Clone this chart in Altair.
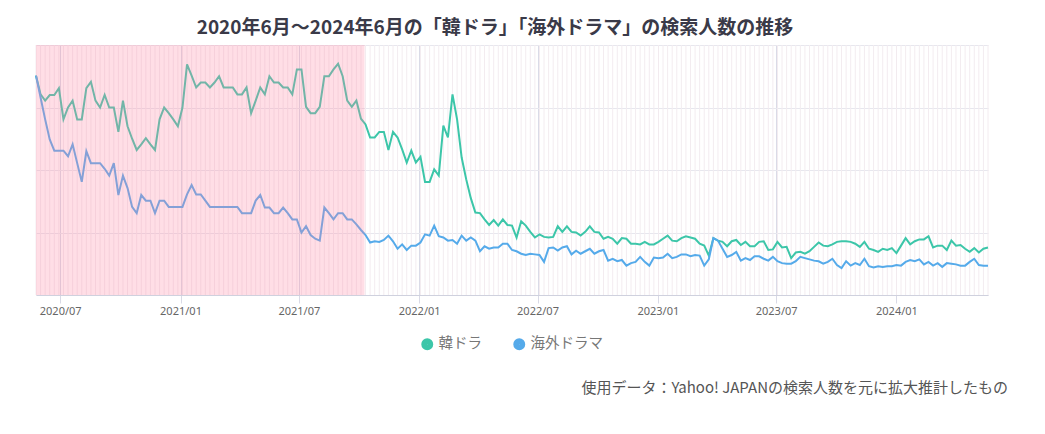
import altair as alt
import pandas as pd

# ---- data (weekly) ----
start_week = "2020-05-25"
n_weeks = 209

korean = [
    351, 321, 311, 320, 320, 331, 281, 300, 311, 281,
    281, 331, 341, 311, 300, 320, 300, 300, 261, 311,
    270, 250, 232, 241, 251, 241, 232, 281, 300, 291,
    281, 270, 300, 369, 351, 332, 340, 340, 332, 340,
    350, 332, 332, 332, 321, 321, 332, 291, 311, 332,
    321, 350, 340, 340, 332, 332, 321, 361, 361, 301,
    291, 291, 301, 350, 350, 361, 370, 350, 311, 301,
    311, 282, 273, 252, 252, 261, 261, 232, 261, 252,
    233, 212, 231, 212, 221, 181, 181, 201, 191, 271,
    252, 321, 281, 220, 185, 155, 132, 131, 121, 112,
    120, 111, 121, 112, 111, 92, 118, 111, 101, 92,
    97, 93, 92, 93, 110, 101, 110, 101, 100, 95,
    101, 110, 101, 100, 90, 93, 90, 82, 91, 90,
    82, 82, 81, 85, 81, 81, 85, 90, 95, 87,
    86, 91, 94, 92, 90, 82, 79, 63, 91, 87,
    85, 78, 86, 88, 80, 85, 78, 78, 85, 86,
    72, 73, 85, 76, 77, 59, 68, 69, 66, 70,
    77, 84, 79, 78, 81, 85, 86, 86, 85, 82,
    77, 85, 74, 72, 69, 74, 72, 75, 67, 79,
    91, 81, 86, 89, 89, 94, 76, 79, 79, 72,
    87, 79, 80, 74, 69, 75, 68, 74, 76,
]

overseas = [
    351, 316, 281, 249, 231, 231, 231, 222, 241, 211,
    181, 230, 211, 211, 211, 202, 191, 211, 160, 191,
    171, 141, 131, 160, 151, 151, 131, 151, 151, 141,
    141, 141, 141, 161, 176, 161, 161, 151, 141, 141,
    141, 141, 141, 141, 141, 131, 131, 131, 151, 160,
    140, 140, 131, 131, 140, 131, 121, 121, 100, 110,
    96, 90, 87, 140, 131, 121, 131, 131, 121, 121,
    113, 104, 96, 84, 86, 85, 88, 95, 86, 74,
    81, 72, 79, 79, 84, 97, 95, 111, 94, 92,
    87, 88, 82, 95, 87, 92, 87, 70, 78, 74,
    76, 76, 82, 82, 72, 70, 66, 64, 66, 65,
    64, 53, 75, 76, 71, 76, 78, 65, 71, 66,
    70, 74, 66, 70, 72, 55, 58, 54, 56, 47,
    51, 53, 61, 53, 47, 60, 59, 60, 66, 59,
    61, 65, 65, 62, 64, 63, 47, 57, 91, 87,
    74, 61, 64, 69, 55, 59, 56, 62, 62, 58,
    55, 61, 54, 51, 50, 50, 54, 61, 59, 57,
    55, 54, 50, 53, 58, 48, 43, 54, 47, 51,
    48, 58, 46, 44, 46, 45, 46, 46, 48, 47,
    53, 56, 54, 57, 49, 53, 47, 51, 45, 51,
    50, 49, 47, 47, 53, 58, 48, 47, 47,
]

series_names = ["韓ドラ", "海外ドラマ"]
series_colors = ["#3cc6a9", "#55aaea"]
highlight_period = ["2020-05-25T00:00:00", "2021-10-09T12:00:00"]
tick_months = [(2020, 7), (2021, 1), (2021, 7), (2022, 1), (2022, 7),
               (2023, 1), (2023, 7), (2024, 1)]
y_ticks = [0, 100, 200, 300, 400]
title_text = "2020年6月～2024年6月の「韓ドラ」「海外ドラマ」の検索人数の推移"
caption_text = "使用データ：Yahoo! JAPANの検索人数を元に拡大推計したもの"

JP = "Noto Sans CJK JP"

# ---- tables ----
dates = pd.date_range(start_week, periods=n_weeks, freq="7D")
df = pd.DataFrame({
    "date": list(dates) * 2,
    "value": korean + overseas,
    "series": [series_names[0]] * n_weeks + [series_names[1]] * n_weeks,
})
weeks = pd.DataFrame({"date": dates})
period = pd.DataFrame({"start": [pd.Timestamp(highlight_period[0])],
                       "end": [pd.Timestamp(highlight_period[1])]})
cap = pd.DataFrame({"caption": [caption_text]})

x_scale = alt.Scale(domain=[
    alt.DateTime(year=dates[0].year, month=dates[0].month, date=dates[0].day),
    alt.DateTime(year=dates[-1].year, month=dates[-1].month, date=dates[-1].day),
])
y_scale = alt.Scale(domain=[0, 400], nice=False)

x_axis = alt.Axis(
    values=[alt.DateTime(year=y, month=m, date=1) for y, m in tick_months],
    format="%Y/%m", labelFont="Noto Sans", labelFontSize=11, labelColor="#666",
    grid=True, gridColor="#d9dae6", gridWidth=1,
    ticks=True, tickSize=8, tickColor="#d9dae6",
    domain=True, domainColor="#cfd1de", labelPadding=2,
)
y_axis = alt.Axis(values=y_ticks, labels=False, ticks=False, domain=False,
                  grid=True, gridColor="#e7e7ee")

rules = alt.Chart(weeks).mark_rule(color="#f3ecf0", strokeWidth=1).encode(
    x=alt.X("date:T", scale=x_scale, axis=x_axis, title=None),
)

lines = alt.Chart(df).mark_line(strokeWidth=2).encode(
    x=alt.X("date:T", scale=x_scale, title=None),
    y=alt.Y("value:Q", scale=y_scale, axis=y_axis, title=None),
    color=alt.Color(
        "series:N",
        scale=alt.Scale(domain=series_names, range=series_colors),
        sort=series_names,
        legend=alt.Legend(
            title=None, orient="none", direction="horizontal",
            legendX=384, legendY=292,
            symbolType="circle", symbolSize=38, symbolStrokeWidth=5.8,
            labelFont=JP, labelFontSize=14.5, labelColor="#777",
            labelOffset=4, columnPadding=22,
        ),
    ),
)

overlay = alt.Chart(period).mark_rect(color="#ff89a6", opacity=0.28).encode(
    x=alt.X("start:T", scale=x_scale, title=None),
    x2="end:T",
    y=alt.datum(400),
    y2=alt.datum(0),
)

caption = alt.Chart(cap).mark_text(
    align="right", baseline="middle", font=JP, fontSize=15, color="#555"
).encode(
    x=alt.value(972), y=alt.value(343), text="caption:N"
)

chart = alt.layer(rules, lines, overlay, caption).properties(
    width=952, height=250,
    title=alt.TitleParams(title_text, font=JP, fontSize=19, fontWeight="bold",
                          color="#3a3a48", anchor="middle", frame="group",
                          offset=7, dx=-17),
    padding={"left": 28, "top": 37, "right": 49, "bottom": 120},
    autosize=alt.AutoSizeParams(type="none"),
).configure_view(stroke=None)

chart.save("out.html", embed_options={"renderer": "svg", "actions": False})
